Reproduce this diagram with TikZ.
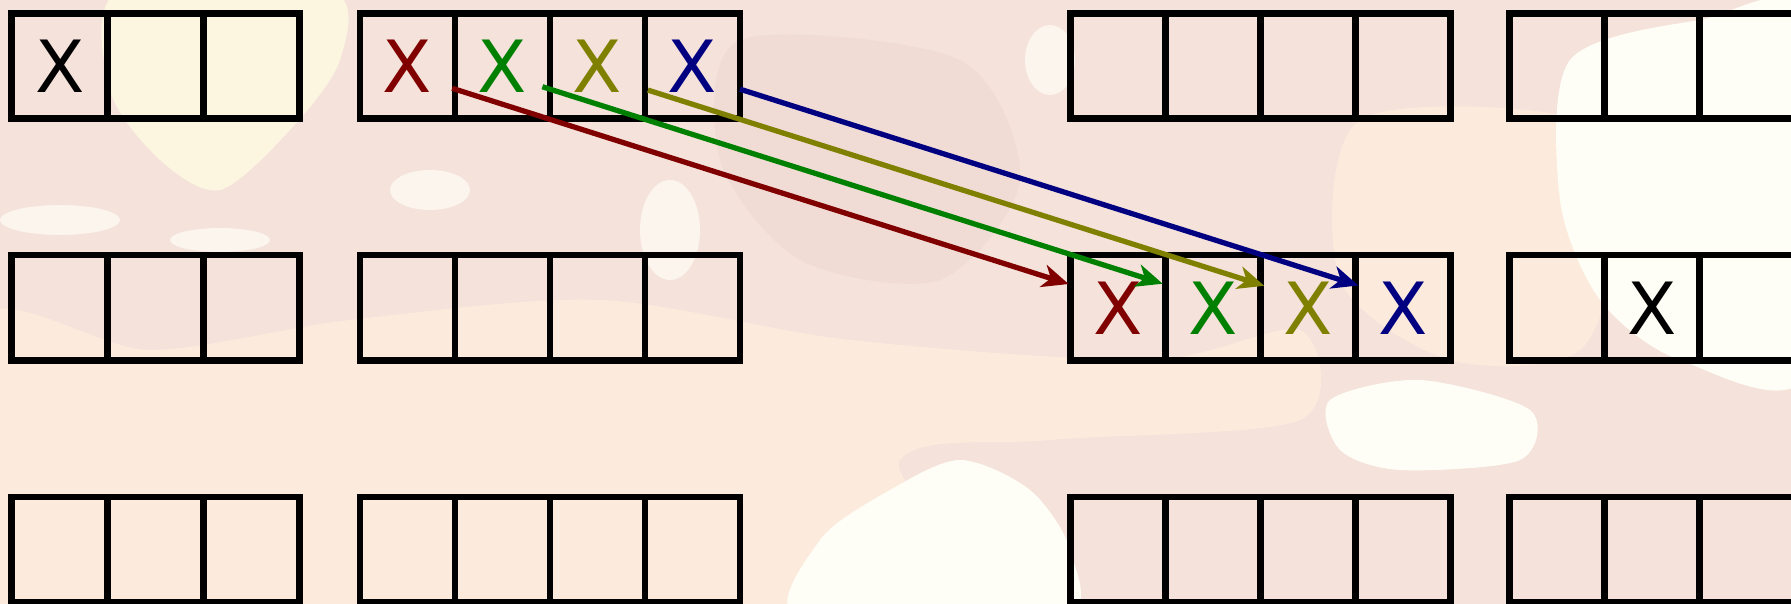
\documentclass[tikz,border=0pt]{standalone}
\usepackage{fontspec}
\usepackage{tikz}
\usetikzlibrary{arrows.meta, positioning}
\newfontfamily\cellfont{DejaVu Sans}
\definecolor{bgpink}{HTML}{F4E2DB}
\definecolor{bgrose}{HTML}{F1DCD5}
\definecolor{bgcream}{HTML}{FCF6E1}
\definecolor{bgpeach}{HTML}{FCEBDD}
\definecolor{bgwhite}{HTML}{FEFEF6}
\definecolor{xred}{HTML}{800000}
\definecolor{xgreen}{HTML}{008000}
\definecolor{xolive}{HTML}{808000}
\definecolor{xblue}{HTML}{000080}
\tikzstyle{slot} = [rectangle, draw=black, line width=1.9pt, minimum width=0.95cm, minimum height=1.055cm, inner sep=0pt, outer sep=0pt]
\tikzstyle{glyph} = [inner sep=0pt, font=\cellfont\fontsize{20.5}{24}\selectfont]
\tikzstyle{arrow} = [line width=1.5pt, -{Stealth[length=7.5pt, width=6.5pt, inset=2.2pt]}]

\begin{document}
\begin{tikzpicture}
    \useasboundingbox (0,0) rectangle (17.91,-6.04);
    \clip (0,0) rectangle (17.91,-6.04);

    % background texture
    \fill[bgpink] (0,0) rectangle (17.91,-6.04);
    \fill[bgrose] plot[smooth cycle] coordinates {(7.4,-0.4) (9.6,-0.6) (10.2,-1.8) (9.4,-2.8) (8.0,-2.6) (7.2,-1.6)};
    \fill[bgrose] plot[smooth cycle] coordinates {(6.9,-3.6) (7.9,-3.5) (8.2,-4.0) (7.6,-4.4) (6.9,-4.2)};
    \fill[bgcream] plot[smooth cycle] coordinates {(1.2,0.1) (3.3,0.1) (3.4,-0.6) (2.9,-1.3) (2.2,-1.9) (1.6,-1.6) (1.1,-0.9)};
    \fill[bgpeach] plot[smooth cycle] coordinates {(-0.2,-3.2) (1.5,-3.5) (3.5,-3.2) (6.0,-3.0) (8.5,-3.4) (11.5,-3.6) (13.0,-3.3) (13.0,-4.2) (10.5,-4.4) (9.0,-4.6) (9.2,-6.2) (-0.2,-6.2)};
    \fill[bgpeach] plot[smooth cycle] coordinates {(13.6,-1.2) (15.8,-1.2) (16.2,-2.2) (15.8,-3.5) (14.5,-3.6) (13.4,-2.8)};
    \fill[bgwhite] plot[smooth cycle] coordinates {(15.7,-0.6) (17.0,-0.2) (18.1,-0.2) (18.1,-3.7) (16.8,-3.6) (16.0,-3.0) (15.6,-2.0)};
    \fill[bgwhite] plot[smooth cycle] coordinates {(13.3,-4.0) (14.2,-3.8) (15.3,-4.1) (15.2,-4.6) (14.0,-4.7) (13.4,-4.5)};
    \fill[bgwhite] plot[smooth cycle] coordinates {(8.0,-6.2) (8.2,-5.4) (8.9,-4.9) (9.6,-4.6) (10.3,-4.9) (10.7,-5.5) (10.6,-6.2)};
    \fill[bgwhite, opacity=0.7] (0.6,-2.2) ellipse (0.6cm and 0.15cm);
    \fill[bgwhite, opacity=0.7] (2.2,-2.4) ellipse (0.5cm and 0.12cm);
    \fill[bgwhite, opacity=0.7] (4.3,-1.9) ellipse (0.4cm and 0.2cm);
    \fill[bgwhite, opacity=0.7] (6.7,-2.3) ellipse (0.3cm and 0.5cm);
    \fill[bgwhite, opacity=0.7] (10.5,-0.6) ellipse (0.25cm and 0.35cm);

    % the four groups of slots, three rows
    \foreach \row/\y in {1/-0.66, 2/-3.078, 3/-5.498} {
        \node[slot, minimum width=0.96cm] (a\row1) at (0.597,\y) {};
        \node[slot, minimum width=0.96cm, right=0pt of a\row1] (a\row2) {};
        \node[slot, minimum width=0.96cm, right=0pt of a\row2] (a\row3) {};
        \node[slot] (b\row1) at (4.075,\y) {};
        \node[slot, right=0pt of b\row1] (b\row2) {};
        \node[slot, right=0pt of b\row2] (b\row3) {};
        \node[slot, right=0pt of b\row3] (b\row4) {};
        \node[slot] (c\row1) at (11.18,\y) {};
        \node[slot, right=0pt of c\row1] (c\row2) {};
        \node[slot, right=0pt of c\row2] (c\row3) {};
        \node[slot, right=0pt of c\row3] (c\row4) {};
        \node[slot] (d\row1) at (15.567,\y) {};
        \node[slot, right=0pt of d\row1] (d\row2) {};
        \node[slot, right=0pt of d\row2] (d\row3) {};
    }

    \node[glyph] (xa) at (a11) {X};
    \node[glyph, text=xred] (xb1) at (b11) {X};
    \node[glyph, text=xgreen] (xb2) at (b12) {X};
    \node[glyph, text=xolive] (xb3) at (b13) {X};
    \node[glyph, text=xblue] (xb4) at (b14) {X};
    \node[glyph, text=xred] (xc1) at (c21) {X};
    \node[glyph, text=xgreen] (xc2) at (c22) {X};
    \node[glyph, text=xolive] (xc3) at (c23) {X};
    \node[glyph, text=xblue] (xc4) at (c24) {X};
    \node[glyph] (xd) at (d22) {X};

    \draw[arrow, xred, shorten <=-0.03cm, shorten >=0.02cm] (b11.-26) -- (c21.154);
    \draw[arrow, xgreen, shorten <=-0.08cm, shorten >=0.03cm] (b12.-26) -- (c22.154);
    \draw[arrow, xolive, shorten <=0.03cm, shorten >=-0.04cm] (b13.-26) -- (c23.154);
    \draw[arrow, xblue, shorten >=-0.03cm] (b14.-26) -- (c24.154);
\end{tikzpicture}
\end{document}
